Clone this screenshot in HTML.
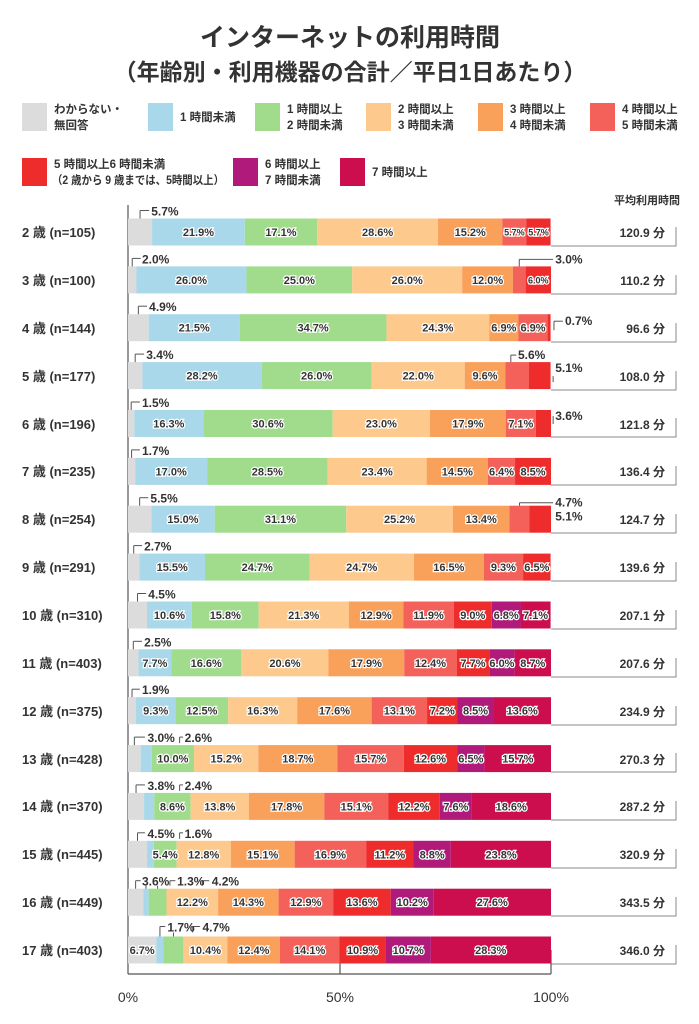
<!DOCTYPE html>
<html><head><meta charset="utf-8"><style>
html,body{margin:0;padding:0;background:#fff;}
svg{display:block;font-family:"Liberation Sans","Noto Sans CJK JP",sans-serif;}
.l{font-size:11px;font-weight:bold;fill:#333;stroke:#fff;stroke-width:2.5px;paint-order:stroke;text-anchor:middle;}
.s{font-size:9px;}
.c{font-size:12px;font-weight:bold;fill:#333;}
.k line{stroke:#555;stroke-width:1;}
.g{fill:#dcdcdc}.b{fill:#a8d8ea}.gr{fill:#a0dc8c}.p{fill:#fdc98c}.o{fill:#f9a05a}.sa{fill:#f4605a}.r{fill:#ee2c2c}.pu{fill:#b01a7a}.cr{fill:#cc0e4e}
.rl{font-size:13px;font-weight:bold;fill:#333;}
.v{font-size:12px;font-weight:bold;fill:#333;text-anchor:end;}
.lg{font-size:11.5px;font-weight:bold;fill:#333;}
</style></head><body>
<svg width="699" height="1024" viewBox="0 0 699 1024">
<text x="350" y="46" text-anchor="middle" font-size="25" font-weight="bold" fill="#333">インターネットの利用時間</text>
<text x="350" y="80" text-anchor="middle" font-size="23" font-weight="bold" fill="#333">（年齢別・利用機器の合計／平日1日あたり）</text>
<!-- legend -->
<rect class="g" x="22" y="103" width="25" height="28"/><text class="lg" x="54" y="113">わからない・</text><text class="lg" x="54" y="129">無回答</text>
<rect class="b" x="148" y="103" width="25" height="28"/><text class="lg" x="180" y="121">1 時間未満</text>
<rect class="gr" x="255" y="103" width="25" height="28"/><text class="lg" x="287" y="113">1 時間以上</text><text class="lg" x="287" y="129">2 時間未満</text>
<rect class="p" x="366" y="103" width="25" height="28"/><text class="lg" x="398" y="113">2 時間以上</text><text class="lg" x="398" y="129">3 時間未満</text>
<rect class="o" x="478" y="103" width="25" height="28"/><text class="lg" x="510" y="113">3 時間以上</text><text class="lg" x="510" y="129">4 時間未満</text>
<rect class="sa" x="590" y="103" width="25" height="28"/><text class="lg" x="622" y="113">4 時間以上</text><text class="lg" x="622" y="129">5 時間未満</text>
<rect class="r" x="22" y="158" width="25" height="28"/><text class="lg" x="54" y="168">5 時間以上6 時間未満</text><text class="lg" x="52" y="184" textLength="172" lengthAdjust="spacingAndGlyphs">（2 歳から 9 歳までは、5時間以上）</text>
<rect class="pu" x="233" y="158" width="25" height="28"/><text class="lg" x="265" y="168">6 時間以上</text><text class="lg" x="265" y="184">7 時間未満</text>
<rect class="cr" x="340" y="158" width="25" height="28"/><text class="lg" x="372" y="176">7 時間以上</text>
<text x="680" y="204" text-anchor="end" font-size="11" font-weight="bold" fill="#333">平均利用時間</text>

<!-- row labels -->
<g class="rl">
<text x="22" y="237">2 歳 (n=105)</text>
<text x="22" y="285">3 歳 (n=100)</text>
<text x="22" y="333">4 歳 (n=144)</text>
<text x="22" y="381">5 歳 (n=177)</text>
<text x="22" y="429">6 歳 (n=196)</text>
<text x="22" y="476">7 歳 (n=235)</text>
<text x="22" y="524">8 歳 (n=254)</text>
<text x="22" y="572">9 歳 (n=291)</text>
<text x="22" y="620">10 歳 (n=310)</text>
<text x="22" y="668">11 歳 (n=403)</text>
<text x="22" y="716">12 歳 (n=375)</text>
<text x="22" y="764">13 歳 (n=428)</text>
<text x="22" y="811">14 歳 (n=370)</text>
<text x="22" y="859">15 歳 (n=445)</text>
<text x="22" y="907">16 歳 (n=449)</text>
<text x="22" y="955">17 歳 (n=403)</text>
</g>
<!-- values and boxes -->
<g class="v">
<text x="665" y="237">120.9 分</text><text x="665" y="285">110.2 分</text><text x="665" y="333">96.6 分</text><text x="665" y="381">108.0 分</text>
<text x="665" y="429">121.8 分</text><text x="665" y="476">136.4 分</text><text x="665" y="524">124.7 分</text><text x="665" y="572">139.6 分</text>
<text x="665" y="620">207.1 分</text><text x="665" y="668">207.6 分</text><text x="665" y="716">234.9 分</text><text x="665" y="764">270.3 分</text>
<text x="665" y="811">287.2 分</text><text x="665" y="859">320.9 分</text><text x="665" y="907">343.5 分</text><text x="665" y="955">346.0 分</text>
</g>
<g stroke="#888" stroke-width="1" fill="none">
<path d="M551 246H676V227M551 294H676V275M551 342H676V323M551 390H676V371M551 437H676V418M551 485H676V466M551 533H676V514M551 581H676V562M551 629H676V610M551 677H676V658M551 725H676V706M551 772H676V753M551 820H676V801M551 868H676V849M551 916H676V897M551 964H676V945"/>
</g>
<!-- axes -->
<g stroke="#555" stroke-width="1.2">
<line x1="128" y1="205" x2="128" y2="974"/>
<line x1="128" y1="974" x2="551" y2="974"/>
<line x1="340" y1="963" x2="340" y2="974"/>
<line x1="551" y1="950" x2="551" y2="974"/>
</g>
<g font-size="14" fill="#333" text-anchor="middle">
<text x="128" y="1002">0%</text><text x="340" y="1002">50%</text><text x="551" y="1002">100%</text>
</g>

<svg x="128" y="0" width="423" height="1024" overflow="visible">
<!-- 2 -->
<g transform="translate(0,218.5)">
<rect class="g" x="0%" width="5.7%" height="27"/><rect class="b" x="5.7%" width="21.9%" height="27"/><rect class="gr" x="27.6%" width="17.1%" height="27"/><rect class="p" x="44.7%" width="28.6%" height="27"/><rect class="o" x="73.3%" width="15.2%" height="27"/><rect class="sa" x="88.5%" width="5.7%" height="27"/><rect class="r" x="94.2%" width="5.7%" height="27"/>
<text class="l" x="16.65%" y="17.5">21.9%</text><text class="l" x="36.15%" y="17.5">17.1%</text><text class="l" x="59%" y="17.5">28.6%</text><text class="l" x="80.9%" y="17.5">15.2%</text><text class="l s" x="91.35%" y="17">5.7%</text><text class="l s" x="97.05%" y="17">5.7%</text>
<g class="k"><line x1="2.85%" y1="0" x2="2.85%" y2="-8"/><line x1="2.85%" y1="-8" x2="5%" y2="-8"/></g><text class="c" x="5.5%" y="-3">5.7%</text>
</g>
<!-- 3 -->
<g transform="translate(0,266.4)">
<rect class="g" x="0%" width="2%" height="27"/><rect class="b" x="2%" width="26%" height="27"/><rect class="gr" x="28%" width="25%" height="27"/><rect class="p" x="53%" width="26%" height="27"/><rect class="o" x="79%" width="12%" height="27"/><rect class="sa" x="91%" width="3%" height="27"/><rect class="r" x="94%" width="6%" height="27"/>
<text class="l" x="15%" y="17.5">26.0%</text><text class="l" x="40.5%" y="17.5">25.0%</text><text class="l" x="66%" y="17.5">26.0%</text><text class="l" x="85%" y="17.5">12.0%</text><text class="l s" x="97%" y="17">6.0%</text>
<g class="k"><line x1="1%" y1="0" x2="1%" y2="-8"/><line x1="1%" y1="-8" x2="3%" y2="-8"/><line x1="92.5%" y1="0" x2="92.5%" y2="-7"/><line x1="92.5%" y1="-7" x2="100.5%" y2="-7"/></g>
<text class="c" x="3.3%" y="-3">2.0%</text><text class="c" x="101%" y="-3">3.0%</text>
</g>
<!-- 4 -->
<g transform="translate(0,314.2)">
<rect class="g" x="0%" width="4.9%" height="27"/><rect class="b" x="4.9%" width="21.5%" height="27"/><rect class="gr" x="26.4%" width="34.7%" height="27"/><rect class="p" x="61.1%" width="24.3%" height="27"/><rect class="o" x="85.4%" width="6.9%" height="27"/><rect class="sa" x="92.3%" width="6.9%" height="27"/><rect class="r" x="99.2%" width="0.7%" height="27"/>
<text class="l" x="15.65%" y="17.5">21.5%</text><text class="l" x="43.75%" y="17.5">34.7%</text><text class="l" x="73.25%" y="17.5">24.3%</text><text class="l" x="88.85%" y="17.5">6.9%</text><text class="l" x="95.75%" y="17.5">6.9%</text>
<g class="k"><line x1="2.45%" y1="0" x2="2.45%" y2="-8"/><line x1="2.45%" y1="-8" x2="4.5%" y2="-8"/><line x1="100.7%" y1="16" x2="100.7%" y2="7"/><line x1="100.7%" y1="7" x2="102.8%" y2="7"/></g>
<text class="c" x="5%" y="-3">4.9%</text><text class="c" x="103.3%" y="11">0.7%</text>
</g>
<!-- 5 -->
<g transform="translate(0,362.1)">
<rect class="g" x="0%" width="3.4%" height="27"/><rect class="b" x="3.4%" width="28.2%" height="27"/><rect class="gr" x="31.6%" width="26%" height="27"/><rect class="p" x="57.6%" width="22%" height="27"/><rect class="o" x="79.6%" width="9.6%" height="27"/><rect class="sa" x="89.2%" width="5.6%" height="27"/><rect class="r" x="94.8%" width="5.1%" height="27"/>
<text class="l" x="17.5%" y="17.5">28.2%</text><text class="l" x="44.6%" y="17.5">26.0%</text><text class="l" x="68.6%" y="17.5">22.0%</text><text class="l" x="84.4%" y="17.5">9.6%</text>
<g class="k"><line x1="1.7%" y1="0" x2="1.7%" y2="-8"/><line x1="1.7%" y1="-8" x2="3.8%" y2="-8"/><line x1="90.5%" y1="0" x2="90.5%" y2="-7"/><line x1="90.5%" y1="-7" x2="91.8%" y2="-7"/><line x1="100.5%" y1="14" x2="100.5%" y2="20"/></g>
<text class="c" x="4.3%" y="-3">3.4%</text><text class="c" x="92.2%" y="-3">5.6%</text><text class="c" x="101%" y="10">5.1%</text>
</g>
<!-- 6 -->
<g transform="translate(0,410)">
<rect class="g" x="0%" width="1.5%" height="27"/><rect class="b" x="1.5%" width="16.3%" height="27"/><rect class="gr" x="17.8%" width="30.6%" height="27"/><rect class="p" x="48.4%" width="23%" height="27"/><rect class="o" x="71.4%" width="17.9%" height="27"/><rect class="sa" x="89.3%" width="7.1%" height="27"/><rect class="r" x="96.4%" width="3.6%" height="27"/>
<text class="l" x="9.65%" y="17.5">16.3%</text><text class="l" x="33.1%" y="17.5">30.6%</text><text class="l" x="59.9%" y="17.5">23.0%</text><text class="l" x="80.35%" y="17.5">17.9%</text><text class="l" x="92.85%" y="17.5">7.1%</text>
<g class="k"><line x1="0.75%" y1="0" x2="0.75%" y2="-8"/><line x1="0.75%" y1="-8" x2="2.8%" y2="-8"/><line x1="100.5%" y1="14" x2="100.5%" y2="6"/></g>
<text class="c" x="3.3%" y="-3">1.5%</text><text class="c" x="101%" y="10">3.6%</text>
</g>
<!-- 7 -->
<g transform="translate(0,457.9)">
<rect class="g" x="0%" width="1.7%" height="27"/><rect class="b" x="1.7%" width="17%" height="27"/><rect class="gr" x="18.7%" width="28.5%" height="27"/><rect class="p" x="47.2%" width="23.4%" height="27"/><rect class="o" x="70.6%" width="14.5%" height="27"/><rect class="sa" x="85.1%" width="6.4%" height="27"/><rect class="r" x="91.5%" width="8.5%" height="27"/>
<text class="l" x="10.2%" y="17.5">17.0%</text><text class="l" x="32.95%" y="17.5">28.5%</text><text class="l" x="58.9%" y="17.5">23.4%</text><text class="l" x="77.85%" y="17.5">14.5%</text><text class="l" x="88.3%" y="17.5">6.4%</text><text class="l" x="95.75%" y="17.5">8.5%</text>
<g class="k"><line x1="0.85%" y1="0" x2="0.85%" y2="-8"/><line x1="0.85%" y1="-8" x2="2.8%" y2="-8"/></g>
<text class="c" x="3.3%" y="-3">1.7%</text>
</g>
<!-- 8 -->
<g transform="translate(0,505.7)">
<rect class="g" x="0%" width="5.5%" height="27"/><rect class="b" x="5.5%" width="15%" height="27"/><rect class="gr" x="20.5%" width="31.1%" height="27"/><rect class="p" x="51.6%" width="25.2%" height="27"/><rect class="o" x="76.8%" width="13.4%" height="27"/><rect class="sa" x="90.2%" width="4.7%" height="27"/><rect class="r" x="94.9%" width="5.1%" height="27"/>
<text class="l" x="13%" y="17.5">15.0%</text><text class="l" x="36.05%" y="17.5">31.1%</text><text class="l" x="64.2%" y="17.5">25.2%</text><text class="l" x="83.5%" y="17.5">13.4%</text>
<g class="k"><line x1="92.55%" y1="0" x2="92.55%" y2="-3"/><line x1="92.55%" y1="-3" x2="100.5%" y2="-3"/><line x1="2.75%" y1="0" x2="2.75%" y2="-8"/><line x1="2.75%" y1="-8" x2="4.8%" y2="-8"/></g>
<text class="c" x="5.3%" y="-3">5.5%</text><text class="c" x="101%" y="1">4.7%</text><text class="c" x="101%" y="15">5.1%</text>
</g>
<!-- 9 -->
<g transform="translate(0,553.6)">
<rect class="g" x="0%" width="2.7%" height="27"/><rect class="b" x="2.7%" width="15.5%" height="27"/><rect class="gr" x="18.2%" width="24.7%" height="27"/><rect class="p" x="42.9%" width="24.7%" height="27"/><rect class="o" x="67.6%" width="16.5%" height="27"/><rect class="sa" x="84.1%" width="9.3%" height="27"/><rect class="r" x="93.4%" width="6.5%" height="27"/>
<text class="l" x="10.45%" y="17.5">15.5%</text><text class="l" x="30.55%" y="17.5">24.7%</text><text class="l" x="55.25%" y="17.5">24.7%</text><text class="l" x="75.85%" y="17.5">16.5%</text><text class="l" x="88.75%" y="17.5">9.3%</text><text class="l" x="96.65%" y="17.5">6.5%</text>
<g class="k"><line x1="1.35%" y1="0" x2="1.35%" y2="-8"/><line x1="1.35%" y1="-8" x2="3.3%" y2="-8"/></g>
<text class="c" x="3.8%" y="-3">2.7%</text>
</g>
<!-- 10 -->
<g transform="translate(0,601.5)">
<rect class="g" x="0%" width="4.5%" height="27"/><rect class="b" x="4.5%" width="10.6%" height="27"/><rect class="gr" x="15.1%" width="15.8%" height="27"/><rect class="p" x="30.9%" width="21.3%" height="27"/><rect class="o" x="52.2%" width="12.9%" height="27"/><rect class="sa" x="65.1%" width="11.9%" height="27"/><rect class="r" x="77%" width="9%" height="27"/><rect class="pu" x="86%" width="6.8%" height="27"/><rect class="cr" x="92.8%" width="7.1%" height="27"/>
<text class="l" x="9.8%" y="17.5">10.6%</text><text class="l" x="23%" y="17.5">15.8%</text><text class="l" x="41.55%" y="17.5">21.3%</text><text class="l" x="58.65%" y="17.5">12.9%</text><text class="l" x="71.05%" y="17.5">11.9%</text><text class="l" x="81.5%" y="17.5">9.0%</text><text class="l" x="89.4%" y="17.5">6.8%</text><text class="l" x="96.35%" y="17.5">7.1%</text>
<g class="k"><line x1="2.25%" y1="0" x2="2.25%" y2="-8"/><line x1="2.25%" y1="-8" x2="4.3%" y2="-8"/></g>
<text class="c" x="4.8%" y="-3">4.5%</text>
</g>
<!-- 11 -->
<g transform="translate(0,649.3)">
<rect class="g" x="0%" width="2.5%" height="27"/><rect class="b" x="2.5%" width="7.7%" height="27"/><rect class="gr" x="10.2%" width="16.6%" height="27"/><rect class="p" x="26.8%" width="20.6%" height="27"/><rect class="o" x="47.4%" width="17.9%" height="27"/><rect class="sa" x="65.3%" width="12.4%" height="27"/><rect class="r" x="77.7%" width="7.7%" height="27"/><rect class="pu" x="85.4%" width="6%" height="27"/><rect class="cr" x="91.4%" width="8.6%" height="27"/>
<text class="l" x="6.35%" y="17.5">7.7%</text><text class="l" x="18.5%" y="17.5">16.6%</text><text class="l" x="37.1%" y="17.5">20.6%</text><text class="l" x="56.35%" y="17.5">17.9%</text><text class="l" x="71.5%" y="17.5">12.4%</text><text class="l" x="81.55%" y="17.5">7.7%</text><text class="l" x="88.4%" y="17.5">6.0%</text><text class="l" x="95.7%" y="17.5">8.7%</text>
<g class="k"><line x1="1.25%" y1="0" x2="1.25%" y2="-8"/><line x1="1.25%" y1="-8" x2="3.3%" y2="-8"/></g>
<text class="c" x="3.8%" y="-3">2.5%</text>
</g>
<!-- 12 -->
<g transform="translate(0,697.2)">
<rect class="g" x="0%" width="1.9%" height="27"/><rect class="b" x="1.9%" width="9.3%" height="27"/><rect class="gr" x="11.2%" width="12.5%" height="27"/><rect class="p" x="23.7%" width="16.3%" height="27"/><rect class="o" x="40%" width="17.6%" height="27"/><rect class="sa" x="57.6%" width="13.1%" height="27"/><rect class="r" x="70.7%" width="7.2%" height="27"/><rect class="pu" x="77.9%" width="8.5%" height="27"/><rect class="cr" x="86.4%" width="13.6%" height="27"/>
<text class="l" x="6.55%" y="17.5">9.3%</text><text class="l" x="17.45%" y="17.5">12.5%</text><text class="l" x="31.85%" y="17.5">16.3%</text><text class="l" x="48.8%" y="17.5">17.6%</text><text class="l" x="64.15%" y="17.5">13.1%</text><text class="l" x="74.3%" y="17.5">7.2%</text><text class="l" x="82.15%" y="17.5">8.5%</text><text class="l" x="93.2%" y="17.5">13.6%</text>
<g class="k"><line x1="0.95%" y1="0" x2="0.95%" y2="-8"/><line x1="0.95%" y1="-8" x2="2.8%" y2="-8"/></g>
<text class="c" x="3.3%" y="-3">1.9%</text>
</g>
<!-- 13 -->
<g transform="translate(0,745.1)">
<rect class="g" x="0%" width="3%" height="27"/><rect class="b" x="3%" width="2.6%" height="27"/><rect class="gr" x="5.6%" width="10%" height="27"/><rect class="p" x="15.6%" width="15.2%" height="27"/><rect class="o" x="30.8%" width="18.7%" height="27"/><rect class="sa" x="49.5%" width="15.7%" height="27"/><rect class="r" x="65.2%" width="12.6%" height="27"/><rect class="pu" x="77.8%" width="6.5%" height="27"/><rect class="cr" x="84.3%" width="15.7%" height="27"/>
<text class="l" x="10.6%" y="17.5">10.0%</text><text class="l" x="23.2%" y="17.5">15.2%</text><text class="l" x="40.15%" y="17.5">18.7%</text><text class="l" x="57.35%" y="17.5">15.7%</text><text class="l" x="71.5%" y="17.5">12.6%</text><text class="l" x="81.05%" y="17.5">6.5%</text><text class="l" x="92.15%" y="17.5">15.7%</text>
<g class="k"><line x1="1.5%" y1="0" x2="1.5%" y2="-8"/><line x1="1.5%" y1="-8" x2="4%" y2="-8"/><line x1="12.2%" y1="-2" x2="12.2%" y2="-8"/><line x1="12.2%" y1="-8" x2="13%" y2="-8"/></g>
<text class="c" x="4.6%" y="-3">3.0%</text><text class="c" x="13.4%" y="-3">2.6%</text>
</g>
<!-- 14 -->
<g transform="translate(0,792.9)">
<rect class="g" x="0%" width="3.8%" height="27"/><rect class="b" x="3.8%" width="2.4%" height="27"/><rect class="gr" x="6.2%" width="8.6%" height="27"/><rect class="p" x="14.8%" width="13.8%" height="27"/><rect class="o" x="28.6%" width="17.8%" height="27"/><rect class="sa" x="46.4%" width="15.1%" height="27"/><rect class="r" x="61.5%" width="12.2%" height="27"/><rect class="pu" x="73.7%" width="7.6%" height="27"/><rect class="cr" x="81.3%" width="18.7%" height="27"/>
<text class="l" x="10.5%" y="17.5">8.6%</text><text class="l" x="21.7%" y="17.5">13.8%</text><text class="l" x="37.5%" y="17.5">17.8%</text><text class="l" x="53.95%" y="17.5">15.1%</text><text class="l" x="67.6%" y="17.5">12.2%</text><text class="l" x="77.5%" y="17.5">7.6%</text><text class="l" x="90.6%" y="17.5">18.6%</text>
<g class="k"><line x1="1.9%" y1="0" x2="1.9%" y2="-8"/><line x1="1.9%" y1="-8" x2="4%" y2="-8"/><line x1="12.2%" y1="-2" x2="12.2%" y2="-8"/><line x1="12.2%" y1="-8" x2="13%" y2="-8"/></g>
<text class="c" x="4.6%" y="-3">3.8%</text><text class="c" x="13.4%" y="-3">2.4%</text>
</g>
<!-- 15 -->
<g transform="translate(0,840.8)">
<rect class="g" x="0%" width="4.5%" height="27"/><rect class="b" x="4.5%" width="1.6%" height="27"/><rect class="gr" x="6.1%" width="5.4%" height="27"/><rect class="p" x="11.5%" width="12.8%" height="27"/><rect class="o" x="24.3%" width="15.1%" height="27"/><rect class="sa" x="39.4%" width="16.9%" height="27"/><rect class="r" x="56.3%" width="11.2%" height="27"/><rect class="pu" x="67.5%" width="8.8%" height="27"/><rect class="cr" x="76.3%" width="23.7%" height="27"/>
<text class="l" x="8.8%" y="17.5">5.4%</text><text class="l" x="17.9%" y="17.5">12.8%</text><text class="l" x="31.85%" y="17.5">15.1%</text><text class="l" x="47.85%" y="17.5">16.9%</text><text class="l" x="61.9%" y="17.5">11.2%</text><text class="l" x="71.9%" y="17.5">8.8%</text><text class="l" x="88.2%" y="17.5">23.8%</text>
<g class="k"><line x1="2.25%" y1="0" x2="2.25%" y2="-8"/><line x1="2.25%" y1="-8" x2="4%" y2="-8"/><line x1="12.2%" y1="-2" x2="12.2%" y2="-8"/><line x1="12.2%" y1="-8" x2="13%" y2="-8"/></g>
<text class="c" x="4.6%" y="-3">4.5%</text><text class="c" x="13.4%" y="-3">1.6%</text>
</g>
<!-- 16 -->
<g transform="translate(0,888.7)">
<rect class="g" x="0%" width="3.6%" height="27"/><rect class="b" x="3.6%" width="1.3%" height="27"/><rect class="gr" x="4.9%" width="4.2%" height="27"/><rect class="p" x="9.1%" width="12.2%" height="27"/><rect class="o" x="21.3%" width="14.3%" height="27"/><rect class="sa" x="35.6%" width="12.9%" height="27"/><rect class="r" x="48.5%" width="13.6%" height="27"/><rect class="pu" x="62.1%" width="10.2%" height="27"/><rect class="cr" x="72.3%" width="27.7%" height="27"/>
<text class="l" x="15.2%" y="17.5">12.2%</text><text class="l" x="28.45%" y="17.5">14.3%</text><text class="l" x="42.05%" y="17.5">12.9%</text><text class="l" x="55.3%" y="17.5">13.6%</text><text class="l" x="67.2%" y="17.5">10.2%</text><text class="l" x="86.1%" y="17.5">27.6%</text>
<g class="k"><line x1="1.8%" y1="0" x2="1.8%" y2="-8"/><line x1="1.8%" y1="-8" x2="3%" y2="-8"/><line x1="4.25%" y1="0" x2="4.25%" y2="-3"/><line x1="9.9%" y1="-3" x2="9.9%" y2="-8"/><line x1="9.9%" y1="-8" x2="11.2%" y2="-8"/><line x1="7%" y1="0" x2="7%" y2="-3"/><line x1="17.6%" y1="-3" x2="17.6%" y2="-8"/><line x1="17.6%" y1="-8" x2="19.2%" y2="-8"/></g>
<text class="c" x="3.3%" y="-3">3.6%</text><text class="c" x="11.6%" y="-3">1.3%</text><text class="c" x="19.8%" y="-3">4.2%</text>
</g>
<!-- 17 -->
<g transform="translate(0,936.5)">
<rect class="g" x="0%" width="6.7%" height="27"/><rect class="b" x="6.7%" width="1.7%" height="27"/><rect class="gr" x="8.4%" width="4.7%" height="27"/><rect class="p" x="13.1%" width="10.4%" height="27"/><rect class="o" x="23.5%" width="12.4%" height="27"/><rect class="sa" x="35.9%" width="14.1%" height="27"/><rect class="r" x="50%" width="10.9%" height="27"/><rect class="pu" x="60.9%" width="10.7%" height="27"/><rect class="cr" x="71.6%" width="28.4%" height="27"/>
<text class="l" x="3.35%" y="17.5">6.7%</text><text class="l" x="18.3%" y="17.5">10.4%</text><text class="l" x="29.75%" y="17.5">12.4%</text><text class="l" x="42.95%" y="17.5">14.1%</text><text class="l" x="55.45%" y="17.5">10.9%</text><text class="l" x="66.25%" y="17.5">10.7%</text><text class="l" x="85.75%" y="17.5">28.3%</text>
<g class="k"><line x1="7.55%" y1="0" x2="7.55%" y2="-10"/><line x1="7.55%" y1="-10" x2="8.8%" y2="-10"/><line x1="10.75%" y1="0" x2="10.75%" y2="-4"/><line x1="15.3%" y1="-4" x2="15.3%" y2="-10"/><line x1="15.3%" y1="-10" x2="17%" y2="-10"/></g>
<text class="c" x="9.3%" y="-5">1.7%</text><text class="c" x="17.6%" y="-5">4.7%</text>
</g>
</svg>
</svg>
</body></html>
